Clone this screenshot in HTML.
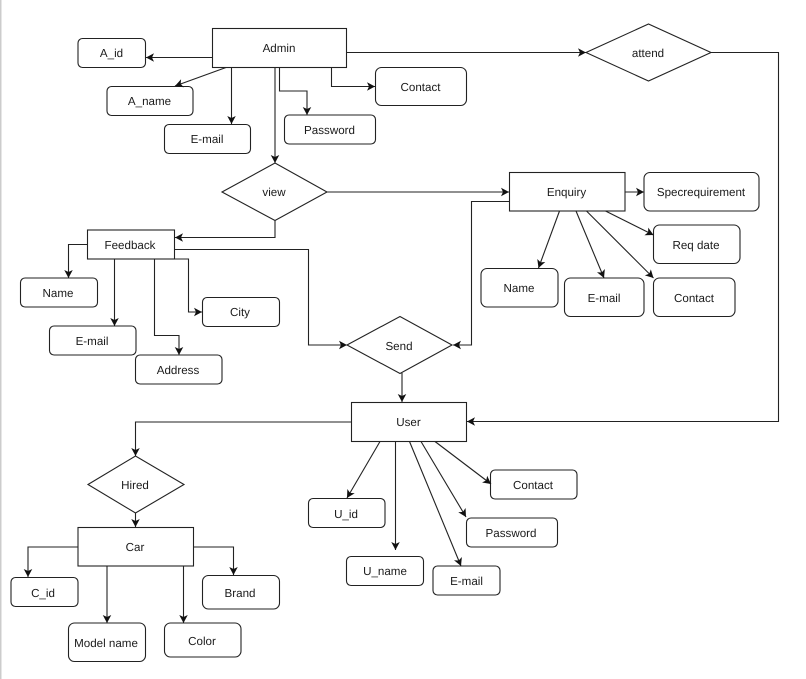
<!DOCTYPE html>
<html><head><meta charset="utf-8"><style>
html,body{margin:0;padding:0;background:#fff;width:806px;height:679px;overflow:hidden}
svg{display:block}
text{font-family:"Liberation Sans",Arial,sans-serif;font-size:11.6px;fill:#1a1a1a;text-anchor:middle;text-rendering:geometricPrecision}
.s{fill:#fff;stroke:#222;stroke-width:1.1}
.c{fill:none;stroke:#222;stroke-width:1.1}
</style></head><body>
<svg width="806" height="679" viewBox="0 0 806 679" xmlns="http://www.w3.org/2000/svg">
<defs><marker id="a" markerUnits="userSpaceOnUse" markerWidth="12" markerHeight="12" refX="8" refY="4.25" orient="auto" overflow="visible"><path d="M0 0 L8 4.25 L0 8.5 L2 4.25 Z" fill="#111"/></marker></defs>
<rect x="0" y="0" width="806" height="679" fill="#fff"/>
<rect x="0" y="0" width="1.5" height="679" fill="#ccc"/>

<g class="shapes">
<rect class="s" x="212.5" y="28.5" width="134" height="39"/>
<rect class="s" x="78" y="38.5" width="67.5" height="29" rx="4.5"/>
<rect class="s" x="107" y="86.5" width="86" height="29" rx="4.5"/>
<rect class="s" x="164.5" y="124.5" width="86" height="29" rx="4.5"/>
<rect class="s" x="284.5" y="115" width="91" height="29" rx="4.5"/>
<rect class="s" x="375.5" y="67.5" width="91" height="38" rx="6"/>
<polygon class="s" points="222,192 275,163 327,192 275,220.5"/>
<polygon class="s" points="586,52.5 648.5,24 711,52.5 648.5,81"/>
<rect class="s" x="509.5" y="172.5" width="115.5" height="38.5"/>
<rect class="s" x="644" y="172.5" width="115" height="38.5" rx="6"/>
<rect class="s" x="653.5" y="225" width="86.5" height="38.5" rx="6"/>
<rect class="s" x="481" y="268.5" width="77" height="38.5" rx="6"/>
<rect class="s" x="564.5" y="278" width="79.5" height="38.5" rx="6"/>
<rect class="s" x="653.5" y="278" width="81.5" height="38.5" rx="6"/>
<rect class="s" x="87.5" y="230" width="87" height="29"/>
<rect class="s" x="20.5" y="278" width="77" height="29" rx="4.5"/>
<rect class="s" x="49.5" y="326" width="86.5" height="29" rx="4.5"/>
<rect class="s" x="135.5" y="355" width="86.5" height="29" rx="4.5"/>
<rect class="s" x="202.5" y="297.5" width="77" height="29" rx="4.5"/>
<polygon class="s" points="347,345 400,316.5 452,345 400,373.5"/>
<rect class="s" x="351.5" y="402.5" width="115" height="39"/>
<rect class="s" x="490.5" y="470" width="86.5" height="29" rx="4.5"/>
<rect class="s" x="466.5" y="518" width="91" height="29" rx="4.5"/>
<rect class="s" x="433" y="566" width="67" height="29" rx="4.5"/>
<rect class="s" x="346.5" y="556.5" width="77" height="29" rx="4.5"/>
<rect class="s" x="308.5" y="498.5" width="76.5" height="29" rx="4.5"/>
<polygon class="s" points="88,484.5 135.5,456 184,484.5 135.5,513"/>
<rect class="s" x="78" y="527.5" width="115.5" height="38.5"/>
<rect class="s" x="11" y="577.5" width="67" height="29" rx="4.5"/>
<rect class="s" x="68.5" y="623" width="77" height="38.5" rx="6"/>
<rect class="s" x="164.5" y="623" width="76.5" height="34" rx="6"/>
<rect class="s" x="202.5" y="575.5" width="77" height="33.5" rx="6"/>
</g>

<g class="c">
<path marker-end="url(#a)" d="M212.5 57.5H146"/>
<path marker-end="url(#a)" d="M226 67.5L175 86"/>
<path marker-end="url(#a)" d="M231.5 67.5V124"/>
<path marker-end="url(#a)" d="M275 67.5V163"/>
<path marker-end="url(#a)" d="M279.5 67.5V91H307V115"/>
<path marker-end="url(#a)" d="M331.5 67.5V86.5H375"/>
<path marker-end="url(#a)" d="M346.5 52.5H586"/>
<path marker-end="url(#a)" d="M711 52.5H778.5V421.5H467"/>
<path marker-end="url(#a)" d="M327 192H509"/>
<path marker-end="url(#a)" d="M275 220.5V237.5H175"/>
<path marker-end="url(#a)" d="M87.5 244.5H68.5V278"/>
<path marker-end="url(#a)" d="M114.5 259V326"/>
<path marker-end="url(#a)" d="M154.5 259V335.5H179V355"/>
<path marker-end="url(#a)" d="M174 259H188.5V312H202"/>
<path marker-end="url(#a)" d="M174.5 249.5H308.5V345H347"/>
<path marker-end="url(#a)" d="M509.5 201.5H471.5V345H453"/>
<path marker-end="url(#a)" d="M625 192H644"/>
<path marker-end="url(#a)" d="M559.5 211L538.5 268"/>
<path marker-end="url(#a)" d="M576 211L604 278"/>
<path marker-end="url(#a)" d="M586.5 211L653.5 278"/>
<path marker-end="url(#a)" d="M605.5 211L653.5 235"/>
<path marker-end="url(#a)" d="M402 373V402"/>
<path marker-end="url(#a)" d="M351.5 422H135.5V456"/>
<path marker-end="url(#a)" d="M135.5 513V527"/>
<path marker-end="url(#a)" d="M78 547H28V577"/>
<path marker-end="url(#a)" d="M107 566V623"/>
<path marker-end="url(#a)" d="M183.5 566V623"/>
<path marker-end="url(#a)" d="M193.5 547H233.5V575"/>
<path marker-end="url(#a)" d="M380 441.5L347 498"/>
<path marker-end="url(#a)" d="M395.5 441.5V550"/>
<path marker-end="url(#a)" d="M409.5 441.5L461 566"/>
<path marker-end="url(#a)" d="M421 441.5L466 517"/>
<path marker-end="url(#a)" d="M435 441.5L491 484"/>
</g>

<text x="279" y="52">Admin</text>
<text x="111.5" y="57">A_id</text>
<text x="149.5" y="105">A_name</text>
<text x="207" y="143">E-mail</text>
<text x="329.5" y="134">Password</text>
<text x="420.5" y="91">Contact</text>
<text x="274" y="196">view</text>
<text x="648" y="57">attend</text>
<text x="566.5" y="196">Enquiry</text>
<text x="701" y="196">Specrequirement</text>
<text x="696" y="249">Req date</text>
<text x="519" y="292">Name</text>
<text x="604" y="302">E-mail</text>
<text x="694" y="302">Contact</text>
<text x="130" y="249">Feedback</text>
<text x="58" y="297">Name</text>
<text x="92" y="345">E-mail</text>
<text x="178" y="374">Address</text>
<text x="240" y="316">City</text>
<text x="399" y="350">Send</text>
<text x="408.5" y="426">User</text>
<text x="533" y="489">Contact</text>
<text x="511" y="537">Password</text>
<text x="466.5" y="585">E-mail</text>
<text x="385" y="575">U_name</text>
<text x="346" y="518">U_id</text>
<text x="135" y="489">Hired</text>
<text x="135" y="551">Car</text>
<text x="43" y="597">C_id</text>
<text x="106" y="647">Model name</text>
<text x="202" y="645">Color</text>
<text x="240" y="597">Brand</text>
</svg>
</body></html>
